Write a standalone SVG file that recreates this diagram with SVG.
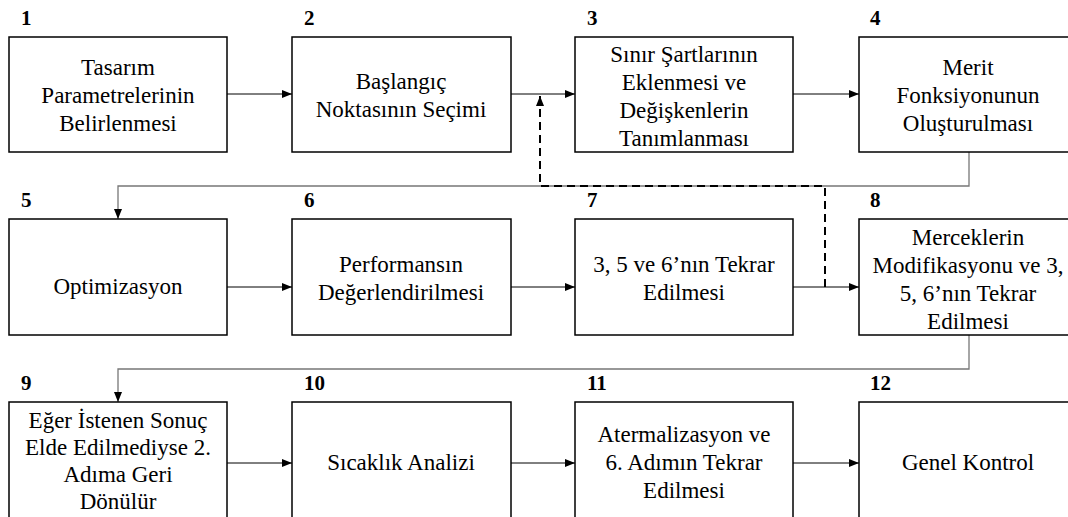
<svg xmlns="http://www.w3.org/2000/svg" width="1068" height="517" viewBox="0 0 1068 517" style="font-family:'Liberation Serif','Times New Roman',serif">
<defs>
<marker id="ah" markerWidth="10" markerHeight="8" refX="10" refY="4" orient="auto" markerUnits="userSpaceOnUse">
<path d="M0,0 L10,4 L0,8 Z" fill="#000"/>
</marker>
</defs>
<rect width="1068" height="517" fill="#fff"/>
<g id="connectors" fill="none">
<g stroke="#000" stroke-width="1">
<line x1="227" y1="94" x2="292" y2="94" marker-end="url(#ah)"/>
<line x1="511" y1="94" x2="575" y2="94" marker-end="url(#ah)"/>
<line x1="793" y1="94" x2="859" y2="94" marker-end="url(#ah)"/>
<line x1="227" y1="287" x2="292" y2="287" marker-end="url(#ah)"/>
<line x1="511" y1="287" x2="575" y2="287" marker-end="url(#ah)"/>
<line x1="793" y1="287" x2="859" y2="287" marker-end="url(#ah)"/>
<line x1="227" y1="463" x2="292" y2="463" marker-end="url(#ah)"/>
<line x1="511" y1="463" x2="575" y2="463" marker-end="url(#ah)"/>
<line x1="793" y1="463" x2="859" y2="463" marker-end="url(#ah)"/>
</g>
<polyline stroke="#777" stroke-width="1.3" points="969,152 969,186 118,186 118,219" marker-end="url(#ah)"/>
<polyline stroke="#777" stroke-width="1.3" points="969,335 969,369 118,369 118,402" marker-end="url(#ah)"/>
<polyline stroke="#000" stroke-width="2" stroke-dasharray="8,5" points="825,287 825,186 540,186 540,96" marker-end="url(#ah)"/>
</g>
<g id="node1"><rect fill="#fff" stroke="#000" stroke-width="1.5" x="9" y="37" width="218" height="115"/>
<text style="font-family:'Liberation Serif',serif;font-size:21px;font-weight:bold" x="21" y="25">1</text>
<text style="font-family:'Liberation Serif',serif;font-size:23px" text-anchor="middle" x="118" y="75">Tasarım</text>
<text style="font-family:'Liberation Serif',serif;font-size:23px" text-anchor="middle" x="118" y="103">Parametrelerinin</text>
<text style="font-family:'Liberation Serif',serif;font-size:23px" text-anchor="middle" x="118" y="131">Belirlenmesi</text></g>
<g id="node2"><rect fill="#fff" stroke="#000" stroke-width="1.5" x="292" y="37" width="219" height="115"/>
<text style="font-family:'Liberation Serif',serif;font-size:21px;font-weight:bold" x="304" y="25">2</text>
<text style="font-family:'Liberation Serif',serif;font-size:23px" text-anchor="middle" x="401" y="89">Başlangıç</text>
<text style="font-family:'Liberation Serif',serif;font-size:23px" text-anchor="middle" x="401" y="117">Noktasının Seçimi</text></g>
<g id="node3"><rect fill="#fff" stroke="#000" stroke-width="1.5" x="575" y="37" width="218" height="115"/>
<text style="font-family:'Liberation Serif',serif;font-size:21px;font-weight:bold" x="587" y="25">3</text>
<text style="font-family:'Liberation Serif',serif;font-size:23px" text-anchor="middle" x="684" y="62">Sınır Şartlarının</text>
<text style="font-family:'Liberation Serif',serif;font-size:23px" text-anchor="middle" x="684" y="90">Eklenmesi  ve</text>
<text style="font-family:'Liberation Serif',serif;font-size:23px" text-anchor="middle" x="684" y="118">Değişkenlerin</text>
<text style="font-family:'Liberation Serif',serif;font-size:23px" text-anchor="middle" x="684" y="146">Tanımlanması</text></g>
<g id="node4"><rect fill="#fff" stroke="#000" stroke-width="1.5" x="859" y="37" width="218" height="115"/>
<text style="font-family:'Liberation Serif',serif;font-size:21px;font-weight:bold" x="870" y="25">4</text>
<text style="font-family:'Liberation Serif',serif;font-size:23px" text-anchor="middle" x="968" y="75">Merit</text>
<text style="font-family:'Liberation Serif',serif;font-size:23px" text-anchor="middle" x="968" y="103">Fonksiyonunun</text>
<text style="font-family:'Liberation Serif',serif;font-size:23px" text-anchor="middle" x="968" y="131">Oluşturulması</text></g>
<g id="node5"><rect fill="#fff" stroke="#000" stroke-width="1.5" x="9" y="219" width="218" height="116"/>
<text style="font-family:'Liberation Serif',serif;font-size:21px;font-weight:bold" x="21" y="207">5</text>
<text style="font-family:'Liberation Serif',serif;font-size:23px" text-anchor="middle" x="118" y="294">Optimizasyon</text></g>
<g id="node6"><rect fill="#fff" stroke="#000" stroke-width="1.5" x="292" y="219" width="219" height="116"/>
<text style="font-family:'Liberation Serif',serif;font-size:21px;font-weight:bold" x="304" y="207">6</text>
<text style="font-family:'Liberation Serif',serif;font-size:23px" text-anchor="middle" x="401" y="272">Performansın</text>
<text style="font-family:'Liberation Serif',serif;font-size:23px" text-anchor="middle" x="401" y="300">Değerlendirilmesi</text></g>
<g id="node7"><rect fill="#fff" stroke="#000" stroke-width="1.5" x="575" y="219" width="218" height="116"/>
<text style="font-family:'Liberation Serif',serif;font-size:21px;font-weight:bold" x="587" y="207">7</text>
<text style="font-family:'Liberation Serif',serif;font-size:23px" text-anchor="middle" x="684" y="272">3, 5 ve 6’nın Tekrar</text>
<text style="font-family:'Liberation Serif',serif;font-size:23px" text-anchor="middle" x="684" y="300">Edilmesi</text></g>
<g id="node8"><rect fill="#fff" stroke="#000" stroke-width="1.5" x="859" y="219" width="218" height="116"/>
<text style="font-family:'Liberation Serif',serif;font-size:21px;font-weight:bold" x="870" y="207">8</text>
<text style="font-family:'Liberation Serif',serif;font-size:23px" text-anchor="middle" x="968" y="245">Merceklerin</text>
<text style="font-family:'Liberation Serif',serif;font-size:23px" text-anchor="middle" x="968" y="273">Modifikasyonu  ve 3,</text>
<text style="font-family:'Liberation Serif',serif;font-size:23px" text-anchor="middle" x="968" y="301">5, 6’nın Tekrar</text>
<text style="font-family:'Liberation Serif',serif;font-size:23px" text-anchor="middle" x="968" y="329">Edilmesi</text></g>
<g id="node9"><rect fill="#fff" stroke="#000" stroke-width="1.5" x="9" y="402" width="218" height="130"/>
<text style="font-family:'Liberation Serif',serif;font-size:21px;font-weight:bold" x="21" y="390">9</text>
<text style="font-family:'Liberation Serif',serif;font-size:23px" text-anchor="middle" x="118" y="428">Eğer İstenen  Sonuç</text>
<text style="font-family:'Liberation Serif',serif;font-size:23px" text-anchor="middle" x="118" y="455">Elde Edilmediyse 2.</text>
<text style="font-family:'Liberation Serif',serif;font-size:23px" text-anchor="middle" x="118" y="482">Adıma Geri</text>
<text style="font-family:'Liberation Serif',serif;font-size:23px" text-anchor="middle" x="118" y="509">Dönülür</text></g>
<g id="node10"><rect fill="#fff" stroke="#000" stroke-width="1.5" x="292" y="402" width="219" height="130"/>
<text style="font-family:'Liberation Serif',serif;font-size:21px;font-weight:bold" x="304" y="390">10</text>
<text style="font-family:'Liberation Serif',serif;font-size:23px" text-anchor="middle" x="401" y="470">Sıcaklık Analizi</text></g>
<g id="node11"><rect fill="#fff" stroke="#000" stroke-width="1.5" x="575" y="402" width="218" height="130"/>
<text style="font-family:'Liberation Serif',serif;font-size:21px;font-weight:bold" x="587" y="390">11</text>
<text style="font-family:'Liberation Serif',serif;font-size:23px" text-anchor="middle" x="684" y="442">Atermalizasyon  ve</text>
<text style="font-family:'Liberation Serif',serif;font-size:23px" text-anchor="middle" x="684" y="470">6. Adımın  Tekrar</text>
<text style="font-family:'Liberation Serif',serif;font-size:23px" text-anchor="middle" x="684" y="498">Edilmesi</text></g>
<g id="node12"><rect fill="#fff" stroke="#000" stroke-width="1.5" x="859" y="402" width="218" height="130"/>
<text style="font-family:'Liberation Serif',serif;font-size:21px;font-weight:bold" x="870" y="390">12</text>
<text style="font-family:'Liberation Serif',serif;font-size:23px" text-anchor="middle" x="968" y="470">Genel Kontrol</text></g>
</svg>
